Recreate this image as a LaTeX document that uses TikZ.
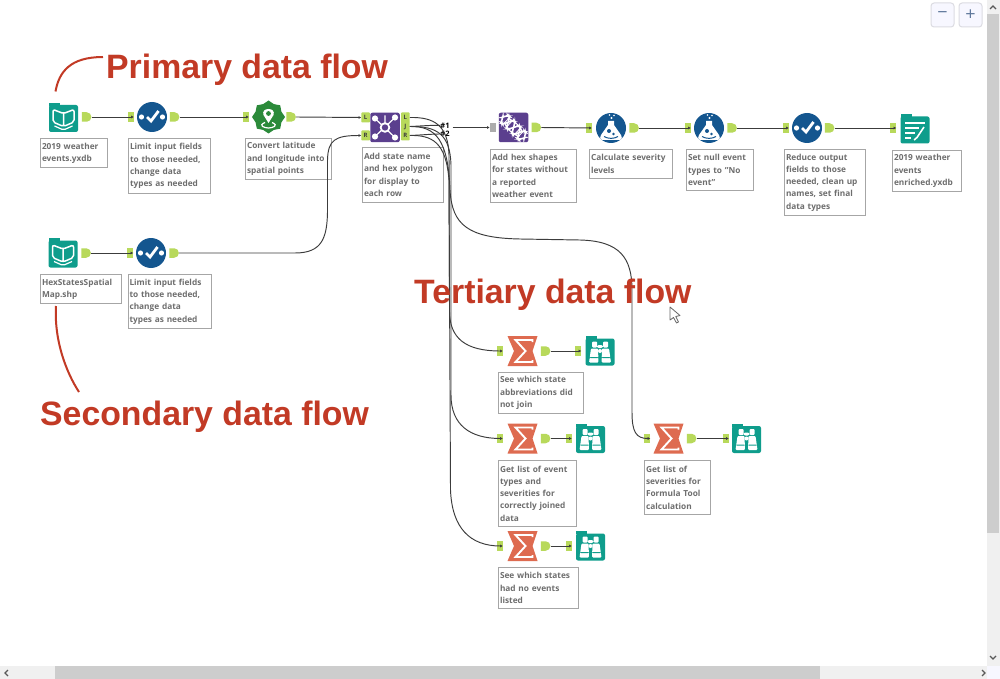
\documentclass[tikz,border=0pt]{standalone}
\usepackage{fontspec}
\setmainfont{Open Sans}
\newfontfamily\titlefont{Liberation Sans}
\usetikzlibrary{arrows.meta,positioning,shapes.geometric,shapes.misc}

\definecolor{tealtool}{HTML}{0F9D8C}
\definecolor{bluetool}{HTML}{14568F}
\definecolor{greentool}{HTML}{2B8A3A}
\definecolor{purpletool}{HTML}{5B3F8E}
\definecolor{orangetool}{HTML}{DE6B50}
\definecolor{tabgreen}{HTML}{B8D95B}
\definecolor{notetext}{HTML}{6E6E6E}
\definecolor{noteline}{HTML}{A6A6A6}
\definecolor{wirecolor}{HTML}{3C3C3C}
\definecolor{flowred}{HTML}{C23A25}
\definecolor{barback}{HTML}{F0F0F0}
\definecolor{barthumb}{HTML}{CDCDCD}

\tikzset{
    glyph/.style={shift={(path picture bounding box.center)}},
    selectglyph/.style={path picture={
        \begin{scope}[glyph]
        \fill[white] (-10.5,0) circle (2.6) (10.5,0) circle (2.6);
        \draw[white, line width=2.8pt] (-5,0) -- (-1,4) -- (6.5,-6);
        \end{scope}}},
    flaskglyph/.style={path picture={
        \begin{scope}[glyph]
        \fill[white] (-3,-7) -- (3,-7) -- (3,-3) -- (10,7)
            .. controls (12,11) and (10,12) .. (7,12) -- (-7,12)
            .. controls (-10,12) and (-12,11) .. (-10,7) -- (-3,-3) -- cycle;
        \fill[bluetool] (-2,3) circle (2) (2.5,6) circle (1.3);
        \draw[bluetool, line width=1pt] (-7,8.5) .. controls (-3,11) and (3,11) .. (7,8.5);
        \fill[white] (0.5,-10) circle (1.2) (-1.5,-13) circle (0.9) (3,-12.5) circle (0.8);
        \end{scope}}},
    bookglyph/.style={path picture={
        \begin{scope}[glyph]
        \draw[white, line width=1.5pt, line join=round] (0,-5) -- (-10.5,-9) -- (-10.5,3.5) -- (0,8) -- (10.5,3.5) -- (10.5,-9) -- cycle (0,-5) -- (0,8);
        \draw[white, line width=1.2pt] (-9,7.5) -- (0,11.5) -- (9,7.5);
        \end{scope}}},
    binocglyph/.style={path picture={
        \begin{scope}[glyph]
        \fill[white, rounded corners=1pt] (-8,-10.5) rectangle (-3,-4.5) (3,-10.5) rectangle (8,-4.5);
        \fill[white, rounded corners=1pt] (-9,-3.5) -- (-2,-3.5) -- (-1.5,10.5) -- (-11,10.5) -- cycle;
        \fill[white, rounded corners=1pt] (9,-3.5) -- (2,-3.5) -- (1.5,10.5) -- (11,10.5) -- cycle;
        \fill[white] (-3,-7) rectangle (3,-4) (-2,-3) rectangle (2,1);
        \fill[tealtool] (-11,5) rectangle (-1,6.2) (1,5) rectangle (11,6.2);
        \end{scope}}},
    sumglyph/.style={path picture={
        \begin{scope}[glyph]
        \fill[orangetool] (-15,-15) -- (15,-15) -- (10,0) -- (15,15) -- (-15,15) -- (-8.5,0) -- cycle;
        \draw[white, line width=1.9pt] (10,-9) -- (10,-11) -- (-7,-11) -- (3,0) -- (-7,11) -- (10,11) -- (10,9);
        \end{scope}}},
    joinglyph/.style={path picture={
        \begin{scope}[glyph]
        \draw[white, line width=1.2pt] (-10,-9) -- (10,10) (10,-10) -- (-10,9) (0,0) -- (0,-12);
        \fill[white] (-10,-9) circle (3.1) (10,-10) circle (3.1) (-10,9) circle (3.1) (10,10) circle (3.1);
        \fill[white] (0,0) circle (5.3);
        \fill[purpletool] (0,0) circle (3.2);
        \end{scope}}},
    dnaglyph/.style={path picture={
        \begin{scope}[glyph]
        \draw[white, line width=1.5pt] plot[smooth, domain=-16:16, samples=25] ({0.72*\x-0.69*4.5*sin(\x*24)}, {0.69*\x+0.72*4.5*sin(\x*24)});
        \draw[white, line width=1.5pt] plot[smooth, domain=-16:16, samples=25] ({0.72*\x+0.69*4.5*sin(\x*24)}, {0.69*\x-0.72*4.5*sin(\x*24)});
        \draw[white, line width=0.9pt] (-9.5,-4) -- (-4.5,-9.5) (-6,-1.5) -- (-1.5,-6.5) (1.5,6.5) -- (6,1.5) (4.5,9.5) -- (9.5,4);
        \end{scope}}},
    geoglyph/.style={path picture={
        \begin{scope}[glyph]
        \fill[white] (0,6) -- (-5,-2) .. controls (-8,-10) and (8,-10) .. (5,-2) -- cycle;
        \fill[greentool] (0,-3.5) circle (2.4);
        \draw[white, line width=1.2pt] (-3.5,5.5) .. controls (-11,8.5) and (-4,11) .. (0,11) .. controls (4,11) and (11,8.5) .. (3.5,5.5);
        \end{scope}}},
    outputglyph/.style={path picture={
        \begin{scope}[glyph]
        \draw[white, line width=1.6pt] (-10,-7) -- (10,-7) (-10,-2) -- (4,-2) (-10,3) -- (0,3) (-10,8) -- (-4,8);
        \draw[white, line width=1.6pt] (9,-3) -- (1,9) -- (-1,10);
        \end{scope}}}
}

\begin{document}
\begin{tikzpicture}[
    x=1pt, y=-1pt,
    >={Latex[length=2.6pt,width=3pt]},
    toolcircle/.style={circle, fill=bluetool, minimum size=30pt, inner sep=0pt},
    toolsquare/.style={rectangle, rounded corners=2pt, fill=purpletool, minimum size=29.5pt, inner sep=0pt},
    foldersquare/.style={rectangle, rounded corners=2pt, fill=tealtool, minimum width=29pt, minimum height=27pt, inner sep=0pt},
    toolplain/.style={rectangle, minimum size=30pt, inner sep=0pt},
    intab/.style={rectangle, fill=tabgreen, minimum width=6pt, minimum height=9.5pt, inner sep=0pt},
    outtab/.style={rounded rectangle, rounded rectangle left arc=none, fill=tabgreen, minimum width=5.5pt, minimum height=9.5pt, inner sep=0pt},
    lettertab/.style={rectangle, rounded corners=0.8pt, fill=tabgreen, minimum width=8.5pt, minimum height=10pt, inner sep=0pt, font=\fontsize{6}{6}\bfseries\selectfont, text=wirecolor},
    wire/.style={draw=wirecolor, line width=0.95pt},
    note/.style 2 args={draw=noteline, line width=1pt, fill=white, anchor=north west, inner xsep=1.5pt, inner ysep=2pt, align=left,
        text width={#1-3pt}, minimum height=#2, text=notetext,
        font=\fontsize{8.3}{12.25}\bfseries\selectfont},
    flowtitle/.style={anchor=base west, inner sep=0pt, text=flowred, font=\fontsize{33.8}{40}\titlefont\bfseries\selectfont},
    flowcurve/.style={draw=flowred, line width=2pt},
    wirelabel/.style={inner sep=0pt, text=black, font=\fontsize{7.5}{8}\bfseries\selectfont},
    zoombtn/.style={draw=blue!10!gray!25, fill=blue!3, line width=1pt, rounded corners=3pt, minimum width=23pt, minimum height=24pt, inner sep=0pt, text={rgb,255:red,95;green,120;blue,155}, font=\fontsize{18}{18}\selectfont}
]
\useasboundingbox (0,0) rectangle (1000,679);
\fill[white] (0,0) rectangle (1000,679);

% primary row tools
\node[foldersquare, bookglyph] (book1) at (63.5,118.5) {};
\node[toolcircle, selectglyph] (select1) at (152,117) {};
\node[star, star points=8, star point ratio=1.18, fill=greentool, minimum size=33pt, inner sep=0pt, geoglyph] (geo) at (268.5,117) {};
\node[toolsquare, joinglyph] (join) at (385,127.5) {};
\node[toolsquare, dnaglyph] (dna) at (513.5,127.5) {};
\node[toolcircle, flaskglyph] (formula1) at (611,128) {};
\node[toolcircle, flaskglyph] (formula2) at (709,128) {};
\node[toolcircle, selectglyph] (select3) at (807,128) {};
\node[foldersquare, outputglyph] (output) at (915,130) {};

% second row tools
\node[foldersquare, bookglyph] (book2) at (63,254) {};
\node[toolcircle, selectglyph] (select2) at (151,253) {};

% summarize and browse tools
\node[toolplain, sumglyph] (sum1) at (522.5,351) {};
\node[foldersquare, binocglyph] (browse1) at (600,352) {};
\node[toolplain, sumglyph] (sum2) at (522.5,438.5) {};
\node[foldersquare, binocglyph] (browse2) at (590.5,439.5) {};
\node[toolplain, sumglyph] (sum3) at (522.5,546) {};
\node[foldersquare, binocglyph] (browse3) at (590.5,547) {};
\node[toolplain, sumglyph] (sum4) at (668.5,438.5) {};
\node[foldersquare, binocglyph] (browse4) at (746.5,439.5) {};

% folder tabs of the teal tools
\fill[tealtool] (book1.north west) ++(0.5,1) rectangle ++(11,-3);
\fill[tealtool] (book2.north west) ++(0.5,1) rectangle ++(11,-3);
\fill[tealtool] (output.north west) ++(0.5,1) rectangle ++(11,-3);
\fill[tealtool] (browse1.north west) ++(0.5,1) rectangle ++(11,-3);
\fill[tealtool] (browse2.north west) ++(0.5,1) rectangle ++(11,-3);
\fill[tealtool] (browse3.north west) ++(0.5,1) rectangle ++(11,-3);
\fill[tealtool] (browse4.north west) ++(0.5,1) rectangle ++(11,-3);

% anchors on the tools
\node[outtab, right=3.5pt of book1, yshift=1.5pt] (book1out) {};
\node[intab, left=3pt of select1] (select1in) {};
\node[outtab, right=2.5pt of select1] (select1out) {};
\node[intab, left=3pt of geo] (geoin) {};
\node[outtab, right=1pt of geo] (geoout) {};
\node[lettertab, left=0pt of join, yshift=10pt] (joinL) {L};
\node[lettertab, left=0pt of join, yshift=-8pt] (joinR) {R};
\node[lettertab, right=1pt of join, yshift=10pt] (joinLout) {L};
\node[lettertab, right=1pt of join, yshift=1pt] (joinJout) {J};
\node[lettertab, right=1pt of join, yshift=-8pt] (joinRout) {R};
\node[rectangle, fill=gray!65, minimum width=6.5pt, minimum height=9pt, inner sep=0pt, left=2pt of dna] (dnain) {};
\node[outtab, right=3pt of dna] (dnaout) {};
\node[intab, left=4pt of formula1] (formula1in) {};
\node[outtab, right=3pt of formula1] (formula1out) {};
\node[intab, left=3pt of formula2] (formula2in) {};
\node[outtab, right=3pt of formula2] (formula2out) {};
\node[intab, left=3pt of select3] (select3in) {};
\node[outtab, right=2.5pt of select3] (select3out) {};
\node[intab, left=4pt of output, yshift=2pt] (outputin) {};
\node[outtab, right=3.5pt of book2, yshift=1pt] (book2out) {};
\node[intab, left=2.5pt of select2] (select2in) {};
\node[outtab, right=3pt of select2] (select2out) {};
\node[intab, left=4.5pt of sum1] (sum1in) {};
\node[outtab, right=3pt of sum1] (sum1out) {};
\node[intab, left=4pt of browse1, yshift=1pt] (browse1in) {};
\node[intab, left=4.5pt of sum2] (sum2in) {};
\node[outtab, right=3pt of sum2] (sum2out) {};
\node[intab, left=4pt of browse2, yshift=1pt] (browse2in) {};
\node[intab, left=4.5pt of sum3] (sum3in) {};
\node[outtab, right=3pt of sum3] (sum3out) {};
\node[intab, left=4pt of browse3, yshift=1pt] (browse3in) {};
\node[intab, left=3pt of sum4] (sum4in) {};
\node[outtab, right=3pt of sum4] (sum4out) {};
\node[intab, left=3pt of browse4, yshift=1pt] (browse4in) {};
\node[wirelabel] (wire1) at (445,125.5) {\#1};
\node[wirelabel] (wire2) at (445,134) {\#2};

% notes under the tools
\node[note={67pt}{29pt}] (note1) at (40,138.5) {2019 weather\\events.yxdb};
\node[note={82pt}{54pt}] (note2) at (128,138.5) {Limit input fields\\to those needed,\\change data\\types as needed};
\node[note={86pt}{41pt}] (note3) at (245,138) {Convert latitude\\and longitude into\\spatial points};
\node[note={81pt}{54pt}] (note4) at (362,147.5) {Add state name\\and hex polygon\\for display to\\each row};
\node[note={86pt}{53pt}] (note5) at (490,149) {Add hex shapes\\for states without\\a reported\\weather event};
\node[note={83pt}{29pt}] (note6) at (589,149) {Calculate severity\\levels};
\node[note={67pt}{41pt}] (note7) at (686,149) {Set null event\\types to "No\\event"};
\node[note={81pt}{66pt}] (note8) at (784,149) {Reduce output\\fields to those\\needed, clean up\\names, set final\\data types};
\node[note={69pt}{41pt}] (note9) at (892,150) {2019 weather\\events\\enriched.yxdb};
\node[note={81pt}{29pt}] (note10) at (40,274) {HexStatesSpatial\\Map.shp};
\node[note={83pt}{54pt}] (note11) at (127.5,274) {Limit input fields\\to those needed,\\change data\\types as needed};
\node[note={85pt}{41pt}] (note12) at (498,372) {See which state\\abbreviations did\\not join};
\node[note={78pt}{66pt}] (note13) at (498,460) {Get list of event\\types and\\severities for\\correctly joined\\data};
\node[note={66pt}{54pt}] (note14) at (644,460) {Get list of\\severities for\\Formula Tool\\calculation};
\node[note={80pt}{41pt}] (note15) at (498,567) {See which states\\had no events\\listed};

% straight wires
\draw[wire, ->] (book1out.east) -- (select1in.east);
\draw[wire, ->] (select1out.east) -- (geoin.east);
\draw[wire, ->] (geoout.east) -- (joinL.west);
\coordinate (wire1end) at (452.5,127.5);
\draw[wire, ->] (wire1end) -- (dnain.west);
\draw[wire, ->] (dnaout.east) -- (formula1in.east);
\draw[wire, ->] (formula1out.east) -- (formula2in.east);
\draw[wire, ->] (formula2out.east) -- (select3in.east);
\draw[wire, ->] (select3out.east) -- (outputin.east);
\draw[wire, ->] (book2out.east) -- (select2in.east);
\draw[wire, ->] (sum1out.east) -- (browse1in.east);
\draw[wire, ->] (sum2out.east) -- (browse2in.east);
\draw[wire, ->] (sum3out.east) -- (browse3in.east);
\draw[wire, ->] (sum4out.east) -- (browse4in.east);

% curved wires
\draw[wire, ->] (select2out.east) -- (295,253) .. controls (322,253) and (327,238) .. (327.5,212)
    -- (327.5,160) .. controls (328,140) and (335,135.5) .. (joinR.west);
\draw[wire] (joinJout.east) .. controls (422,126) and (432,125) .. (wire1.west);
\draw[wire] (joinRout.east) .. controls (422,135) and (432,134) .. (wire2.west);
\draw[wire, ->] (joinLout.east) .. controls (434,117) and (448,125) .. (449,155)
    -- (449.5,312) .. controls (450,338) and (465,351) .. (sum1in.east);
\draw[wire, ->] (joinJout.east) .. controls (438,126) and (450,135) .. (451,165)
    -- (451,395) .. controls (451,425) and (470,438.5) .. (sum2in.east);
\draw[wire, ->] (joinRout.east) .. controls (432,135) and (446,142) .. (449,180)
    -- (450.5,490) .. controls (452,528) and (470,546) .. (sum3in.east);
\draw[wire, ->] (joinJout.east) .. controls (436,126) and (448,140) .. (450,190)
    .. controls (452,225) and (468,238) .. (520,239) -- (580,240)
    .. controls (620,241) and (632,258) .. (632,290) -- (632,412)
    .. controls (632,432) and (636,438.5) .. (sum4in.east);

% red callouts
\node[flowtitle] (primary) at (106,79) {Primary data flow};
\node[flowtitle] (secondary) at (40,425) {Secondary data flow};
\node[flowtitle] (tertiary) at (414,303) {Tertiary data flow};
\coordinate (primaryend) at (55.5,91.5);
\coordinate (secondaryend) at (56,306);
\draw[flowcurve] (primaryend) .. controls (59,72) and (70,57) .. ([xshift=-3pt,yshift=22pt]primary.base west);
\draw[flowcurve] (secondaryend) .. controls (54,340) and (66,372) .. ([xshift=39pt,yshift=33pt]secondary.base west);

% mouse pointer
\draw[fill=white, draw=gray!80!black, line width=0.8pt, line join=round] (670,307) -- (670,320) -- (673.5,317.5) -- (676.5,323) -- (678.5,322) -- (675.8,316.5) -- (680,315.5) -- cycle;

% zoom buttons and scrollbars
\node[zoombtn] (zoomout) at (942.5,15) {\textminus};
\node[zoombtn] (zoomin) at (970.5,15) {+};
\fill[barback] (987,0) rectangle (1000,666);
\fill[barback] (0,666) rectangle (987,679);
\fill[blue!3] (987,666) rectangle (1000,679);
\fill[barthumb] (987,14) rectangle (999,533);
\fill[barthumb] (55,666) rectangle (820,679);
\draw[gray!70!black, line width=1.1pt] (990,9) -- (993,6) -- (996,9);
\draw[gray!70!black, line width=1.1pt] (990,656) -- (993,659) -- (996,656);
\draw[gray!70!black, line width=1.1pt] (8,670) -- (5,673) -- (8,676);
\draw[gray!70!black, line width=1.1pt] (982,670) -- (985,673) -- (982,676);
\end{tikzpicture}
\end{document}
